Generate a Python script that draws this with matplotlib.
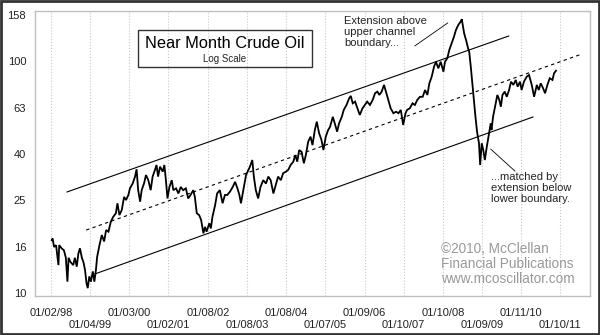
import numpy as np
import matplotlib
matplotlib.use("Agg")
import matplotlib.pyplot as plt
from matplotlib.patches import Rectangle

plt.rcParams['font.family'] = ['Liberation Sans', 'DejaVu Sans']

# near month crude oil (year as decimal, price in $)
years = [1998.02, 1998.04, 1998.08, 1998.13, 1998.16, 1998.19, 1998.21, 1998.27, 1998.33, 1998.38,
         1998.42, 1998.45, 1998.50, 1998.57, 1998.61, 1998.66, 1998.70, 1998.74, 1998.79, 1998.83,
         1998.87, 1998.91, 1998.94, 1998.98, 1999.02, 1999.07, 1999.11, 1999.15, 1999.18, 1999.24,
         1999.30, 1999.36, 1999.41, 1999.47, 1999.53, 1999.59, 1999.66, 1999.70, 1999.75, 1999.81,
         1999.87, 1999.92, 1999.98, 2000.02, 2000.09, 2000.15, 2000.19, 2000.23, 2000.28, 2000.32,
         2000.38, 2000.43, 2000.49, 2000.55, 2000.60, 2000.66, 2000.70, 2000.74, 2000.79, 2000.86,
         2000.90, 2000.94, 2000.98, 2001.03, 2001.09, 2001.13, 2001.20, 2001.26, 2001.32, 2001.38,
         2001.45, 2001.51, 2001.57, 2001.64, 2001.68, 2001.73, 2001.79, 2001.84, 2001.90, 2001.94,
         2001.98, 2002.05, 2002.09, 2002.13, 2002.20, 2002.25, 2002.32, 2002.39, 2002.45, 2002.51,
         2002.58, 2002.65, 2002.71, 2002.77, 2002.82, 2002.86, 2002.92, 2002.99, 2003.05, 2003.09,
         2003.15, 2003.19, 2003.24, 2003.30, 2003.36, 2003.43, 2003.50, 2003.56, 2003.62, 2003.69,
         2003.76, 2003.81, 2003.88, 2003.94, 2004.01, 2004.07, 2004.13, 2004.20, 2004.25, 2004.30,
         2004.35, 2004.41, 2004.47, 2004.52, 2004.58, 2004.64, 2004.69, 2004.75, 2004.80, 2004.86,
         2004.92, 2004.97, 2005.03, 2005.09, 2005.14, 2005.21, 2005.26, 2005.32, 2005.37, 2005.44,
         2005.49, 2005.56, 2005.63, 2005.67, 2005.72, 2005.78, 2005.84, 2005.90, 2005.97, 2006.03,
         2006.09, 2006.16, 2006.23, 2006.29, 2006.35, 2006.40, 2006.46, 2006.52, 2006.57, 2006.63,
         2006.69, 2006.76, 2006.83, 2006.89, 2006.95, 2007.01, 2007.07, 2007.11, 2007.18, 2007.25,
         2007.31, 2007.37, 2007.44, 2007.51, 2007.57, 2007.63, 2007.68, 2007.74, 2007.80, 2007.85,
         2007.91, 2007.97, 2008.04, 2008.08, 2008.14, 2008.19, 2008.25, 2008.31, 2008.36, 2008.42,
         2008.48, 2008.51, 2008.57, 2008.63, 2008.67, 2008.70, 2008.74, 2008.78, 2008.82, 2008.86,
         2008.90, 2008.95, 2008.98, 2009.02, 2009.06, 2009.10, 2009.15, 2009.20, 2009.25, 2009.27,
         2009.31, 2009.36, 2009.42, 2009.47, 2009.51, 2009.55, 2009.61, 2009.66, 2009.72, 2009.77,
         2009.83, 2009.89, 2009.94, 2010.00, 2010.04, 2010.10, 2010.17, 2010.23, 2010.30, 2010.36,
         2010.43, 2010.48, 2010.53, 2010.59, 2010.64, 2010.70, 2010.76, 2010.83, 2010.87, 2010.92]
prices = [16.9, 17.2, 15.8, 16.1, 14.6, 13.2, 16.1, 15.6, 15.3, 14.2,
          11.2, 14.2, 13.6, 13.2, 14.2, 13.0, 14.8, 15.6, 14.2, 13.6,
          12.6, 11.0, 10.5, 11.8, 11.2, 12.4, 11.2, 12.6, 14.3, 16.1,
          17.8, 16.7, 18.7, 18.4, 20.3, 21.3, 22.1, 24.4, 21.7, 22.8,
          26.0, 25.2, 26.5, 28.3, 29.7, 31.8, 34.2, 27.8, 24.8, 27.8,
          29.7, 32.3, 30.7, 27.8, 31.8, 34.0, 35.7, 31.8, 35.1, 33.4,
          35.7, 30.7, 25.6, 28.7, 30.7, 27.8, 28.3, 26.9, 28.7, 27.8,
          28.3, 25.6, 26.5, 27.8, 26.0, 22.1, 21.7, 20.7, 18.1, 19.3,
          18.4, 20.0, 19.0, 21.3, 24.0, 26.9, 27.8, 24.4, 26.5, 26.5,
          27.4, 28.7, 30.2, 28.3, 26.5, 24.4, 27.8, 32.3, 34.0, 35.1,
          37.5, 31.8, 27.8, 25.6, 28.7, 30.7, 29.7, 31.8, 30.7, 26.9,
          29.7, 31.8, 30.7, 32.9, 33.4, 34.0, 35.7, 36.9, 39.4, 36.9,
          41.4, 40.7, 36.3, 39.4, 45.0, 47.3, 43.5, 50.5, 54.9, 48.9,
          45.8, 41.4, 47.3, 50.5, 52.2, 57.6, 54.0, 49.7, 54.0, 57.6,
          61.7, 64.8, 69.3, 70.9, 65.9, 67.0, 62.7, 58.7, 62.7, 64.8,
          67.0, 64.8, 68.1, 72.8, 74.0, 71.6, 74.0, 79.1, 74.0, 68.1,
          62.7, 59.7, 60.6, 59.7, 61.7, 53.1, 59.7, 61.7, 62.7, 65.9,
          64.8, 68.1, 70.3, 70.3, 75.2, 71.6, 80.4, 85.8, 94.8, 99.6,
          93.3, 99.6, 90.2, 99.6, 103.1, 111.9, 119.6, 127.7, 136.5, 143.5,
          148.3, 152.0, 132.1, 121.6, 113.9, 110.1, 94.8, 80.4, 68.1, 57.6,
          49.7, 44.3, 35.7, 44.3, 41.4, 37.5, 42.8, 48.1, 54.0, 50.5,
          57.6, 63.7, 71.6, 68.1, 63.7, 71.6, 74.0, 70.3, 75.2, 81.7,
          79.1, 83.1, 77.7, 81.7, 75.2, 81.7, 85.8, 87.3, 79.1, 70.3,
          79.1, 75.2, 80.4, 76.5, 72.8, 79.1, 84.5, 83.1, 88.8, 91.1]

# channel lines (start/end)
upper_x = [1998.41, 2009.71]
upper_y = [27.3, 128.6]
mid_x = [1998.90, 2011.58]
mid_y = [18.7, 107.5]
lower_x = [1999.13, 2010.33]
lower_y = [12.1, 57.5]

# x tick labels (first trading day of each year)
tick_dates = ["01/02/98", "01/04/99", "01/03/00", "01/02/01", "01/08/02", "01/08/03", "01/08/04",
              "01/07/05", "01/09/06", "01/10/07", "01/10/08", "01/09/09", "01/11/10", "01/10/11"]
ytick_vals = [10, 16, 25, 40, 63, 100, 158]

fig = plt.figure(figsize=(6, 3.35), dpi=100)
ax = fig.add_axes([0.0575, 0.1164, 0.9255, 0.8508])

ax.plot(years, prices, color="black", lw=1.3, solid_joinstyle="miter")
ax.plot(upper_x, upper_y, color="black", lw=0.8)
ax.plot(lower_x, lower_y, color="black", lw=0.8)
ax.plot(mid_x, mid_y, color="black", lw=0.8, ls=(0, (3, 3)))

# pointer lines for the notes
ax.plot([2007.31, 2008.15], [116.6, 146.4], color="black", lw=0.6)
ax.plot([2009.25, 2009.87], [41.8, 33.6], color="black", lw=0.6)

ax.set_yscale("log")
ax.set_ylim(9.71, 164.9)
ax.set_xlim(1997.578, 2011.785)

ypos = [10 ** (1 + 0.2 * i) for i in range(len(ytick_vals))]
ax.set_yticks(ypos)
ax.set_yticklabels([str(v) for v in ytick_vals])
ax.yaxis.set_minor_locator(matplotlib.ticker.NullLocator())

tpos = []
for d in tick_dates:
    m, dd, yy = d.split("/")
    tpos.append(2000 + int(yy) - (100 if int(yy) > 50 else 0) + (int(dd) - 1) / 365.0)
ax.set_xticks(tpos[0::2])
ax.set_xticklabels(tick_dates[0::2])
ax.set_xticks(tpos[1::2], minor=True)
ax.set_xticklabels(tick_dates[1::2], minor=True)

ax.tick_params(axis="x", which="major", length=0, pad=8.5, labelsize=8, labelcolor="#222222")
ax.tick_params(axis="x", which="minor", length=0, pad=17, labelsize=8, labelcolor="#222222")
ax.tick_params(axis="y", length=0, pad=6, labelsize=8, labelcolor="#222222")
ax.grid(True, axis="x", which="both", color="#c8c8c8", ls=":", lw=0.8)

for s in ax.spines.values():
    s.set_color("#c0c0c0")
    s.set_linewidth(1)

# title box
fig.patches.append(Rectangle((138 / 600, 1 - 67 / 335), 174 / 600, 37 / 335,
                             transform=fig.transFigure, fill=False, ec="#333333", lw=1))
fig.text(225 / 600, 1 - 43 / 335, "Near Month Crude Oil", ha="center", va="center",
         fontsize=11.8, color="black")
fig.text(225 / 600, 1 - 59 / 335, "Log Scale", ha="center", va="center", fontsize=7, color="#222222")

fig.text(344 / 600, 1 - 16 / 335, "Extension above\nupper channel\nboundary...", ha="left", va="top",
         fontsize=8, color="#222222", linespacing=1.15)
fig.text(491 / 600, 1 - 172 / 335, "...matched by\nextension below\nlower boundary.", ha="left",
         va="top", fontsize=8, color="#222222", linespacing=1.15)
fig.text(441 / 600, 1 - 242 / 335, "\u00a92010, McClellan\nFinancial Publications\nwww.mcoscillator.com",
         ha="left", va="top", fontsize=9.8, color="#999999", linespacing=1.1)

# outer frame
fig.patches.append(Rectangle((0.002, 0.003), 0.996, 0.994, transform=fig.transFigure,
                             fill=False, ec="#333333", lw=2))

fig.savefig("out.png", dpi=100)
